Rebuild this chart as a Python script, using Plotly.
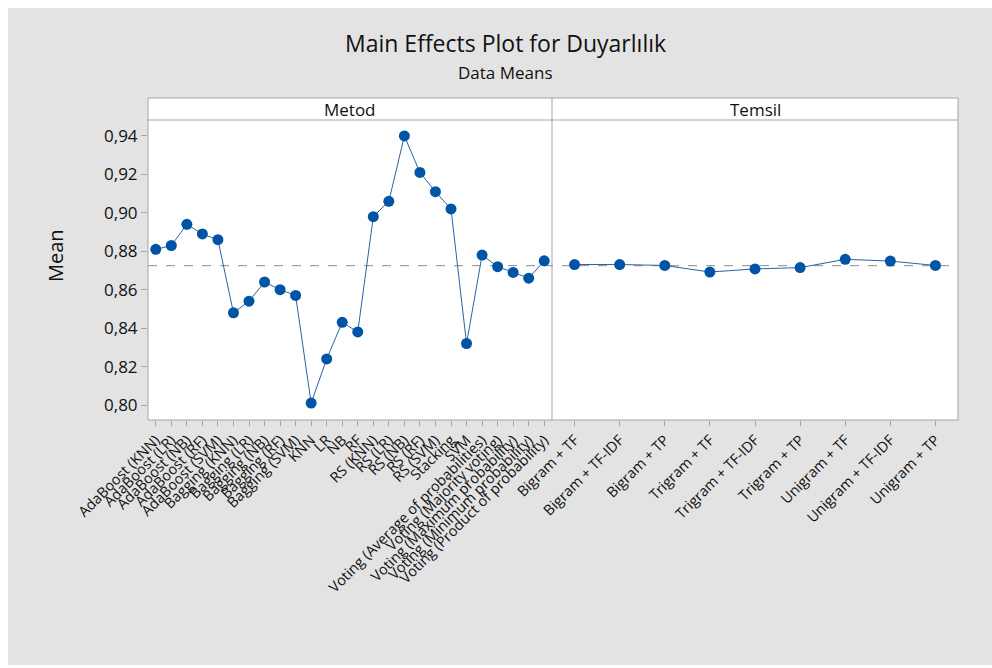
import plotly.graph_objects as go

# ---- data ----
metod_labels = [
    "AdaBoost (KNN)", "AdaBoost (LR)", "AdaBoost (NB)", "AdaBoost (RF)", "AdaBoost (SVM)",
    "Bagging (KNN)", "Bagging (LR)", "Bagging (NB)", "Bagging (RF)", "Bagging (SVM)",
    "KNN", "LR", "NB", "RF",
    "RS (KNN)", "RS (LR)", "RS (NB)", "RS (RF)", "RS (SVM)",
    "Stacking", "SVM",
    "Voting (Average of probabilities)", "Voting (Majority voting)",
    "Voting (Maximum probability)", "Voting (Minimum probability)",
    "Voting (Product of probability)",
]
metod_means = [
    0.881, 0.883, 0.894, 0.889, 0.886,
    0.848, 0.854, 0.864, 0.860, 0.857,
    0.801, 0.824, 0.843, 0.838,
    0.898, 0.906, 0.940, 0.921, 0.911,
    0.902, 0.832,
    0.878, 0.872, 0.869, 0.866, 0.875,
]
temsil_labels = [
    "Bigram + TF", "Bigram + TF-IDF", "Bigram + TP",
    "Trigram + TF", "Trigram + TF-IDF", "Trigram + TP",
    "Unigram + TF", "Unigram + TF-IDF", "Unigram + TP",
]
temsil_means = [0.8731, 0.8731, 0.8726, 0.8692, 0.8708, 0.8715, 0.8758, 0.8749, 0.8726]
grand_mean = 0.8725
y_ticks = [0.80, 0.82, 0.84, 0.86, 0.88, 0.90, 0.92, 0.94]

# ---- layout geometry (pixels) ----
W, H = 992, 668
L, R, T, B = 148, 958, 120, 420
STRIP_TOP = 98
DIV = 552
pw, ph = R - L, B - T

def px(x):
    return (x - L) / pw

def py(y):
    return (B - y) / ph

split = px(DIV)

FONT = "Open Sans"
TXT = "#111111"
BORDER = "#a6a6a6"
BLUE = "#0054a6"

fig = go.Figure()
fig.add_trace(go.Scatter(
    x=metod_labels, y=metod_means, mode="lines+markers",
    line=dict(color="#2b62a6", width=1),
    marker=dict(color=BLUE, size=11, symbol="circle"),
    xaxis="x", yaxis="y", showlegend=False, cliponaxis=False,
))
fig.add_trace(go.Scatter(
    x=temsil_labels, y=temsil_means, mode="lines+markers",
    line=dict(color="#2b62a6", width=1),
    marker=dict(color=BLUE, size=11, symbol="circle"),
    xaxis="x2", yaxis="y", showlegend=False, cliponaxis=False,
))

shapes = [
    dict(type="rect", xref="paper", yref="paper", x0=px(8), x1=px(W + 5), y0=py(665), y1=py(8),
         fillcolor="#e3e3e3", line=dict(width=0), layer="below"),
    dict(type="rect", xref="paper", yref="paper", x0=0, x1=1, y0=0, y1=py(STRIP_TOP),
         fillcolor="white", line=dict(color=BORDER, width=1), layer="below"),
    dict(type="line", xref="paper", yref="paper", x0=0, x1=1, y0=1, y1=1,
         line=dict(color=BORDER, width=1), layer="below"),
    dict(type="line", xref="paper", yref="paper", x0=split, x1=split, y0=0, y1=py(STRIP_TOP),
         line=dict(color=BORDER, width=1), layer="below"),
    dict(type="line", xref="paper", yref="y", x0=0, x1=1, y0=grand_mean, y1=grand_mean,
         line=dict(color="#8c8c8c", width=1, dash="dash"), layer="below"),
]

annotations = [
    dict(text="Main Effects Plot for Duyarlılık", xref="paper", yref="paper",
         x=px(505), y=py(43), showarrow=False,
         font=dict(family=FONT, size=23, color=TXT, weight=500),
         xanchor="center", yanchor="middle"),
    dict(text="Data Means", xref="paper", yref="paper",
         x=px(505), y=py(72), showarrow=False,
         font=dict(family=FONT, size=17, color=TXT, weight=500),
         xanchor="center", yanchor="middle"),
    dict(text="Metod", xref="paper", yref="paper",
         x=split / 2, y=py(109), showarrow=False,
         font=dict(family=FONT, size=17, color=TXT, weight=500),
         xanchor="center", yanchor="middle"),
    dict(text="Temsil", xref="paper", yref="paper",
         x=(split + 1) / 2, y=py(109), showarrow=False,
         font=dict(family=FONT, size=17, color=TXT, weight=500),
         xanchor="center", yanchor="middle"),
    dict(text="Mean", xref="paper", yref="paper",
         x=px(55), y=py(256), showarrow=False, textangle=-90,
         font=dict(family=FONT, size=20, color=TXT, weight=500),
         xanchor="center", yanchor="middle"),
]

xcommon = dict(
    ticks="outside", ticklen=5, tickcolor=BORDER, tickwidth=1,
    showline=False, showgrid=False, zeroline=False, tickangle=-45,
    tickfont=dict(family=FONT, size=14.5, color=TXT, weight=500), automargin=False,
    fixedrange=True, type="category", anchor="y",
)

fig.update_layout(
    width=W, height=H,
    margin=dict(l=L, r=W - R, t=T, b=H - B, pad=0),
    paper_bgcolor="white",
    plot_bgcolor="rgba(0,0,0,0)",
    separators=",.",
    xaxis=dict(domain=[0, split], range=[-0.5, len(metod_labels) - 0.5],
               tickmode="array", tickvals=metod_labels, ticktext=metod_labels, **xcommon),
    xaxis2=dict(domain=[split, 1], range=[-0.5, len(temsil_labels) - 0.5],
                tickmode="array", tickvals=temsil_labels, ticktext=temsil_labels, **xcommon),
    yaxis=dict(range=[0.7922, 0.9483], tickvals=y_ticks, tickformat=".2f",
               ticks="outside", ticklen=6, tickcolor=BORDER, showline=False, showgrid=False,
               zeroline=False, tickfont=dict(family=FONT, size=17, color=TXT, weight=500),
               automargin=False, anchor="x", fixedrange=True),
    shapes=shapes,
    annotations=annotations,
    showlegend=False,
)

fig.write_html("out.html")
